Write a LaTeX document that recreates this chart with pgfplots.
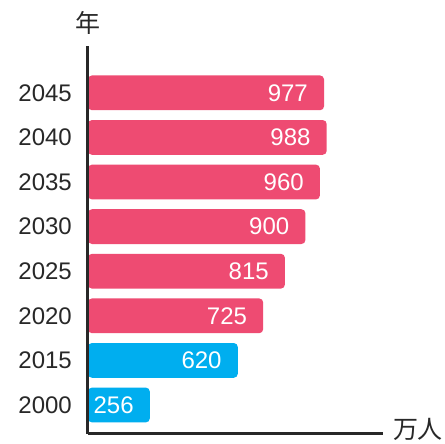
\documentclass[border=0pt]{standalone}
\usepackage{pgfplots}
\pgfplotsset{compat=1.18}
\usepackage{fontspec}
\setmainfont{Liberation Sans}
\newfontfamily\cjk{Noto Sans CJK JP}
\definecolor{pinkbar}{RGB}{238,75,114}
\definecolor{cyanbar}{RGB}{0,174,239}
\definecolor{axisgray}{RGB}{40,40,40}
\begin{document}
\begin{tikzpicture}
\useasboundingbox (-88pt,-10pt) rectangle (357pt,434pt);
\begin{axis}[
 scale only axis, width=295pt, height=388pt,
 xbar, bar width=0.78, bar shift=0pt,
 xmin=0, xmax=1221, ymin=-0.65, ymax=8.05,
 axis x line=bottom, axis y line=left,
 axis line style={-, line width=3pt, color=axisgray},
 axis on top,
 xtick=\empty,
 ytick={0,...,7}, yticklabels={2000,2015,2020,2025,2030,2035,2040,2045},
 major tick length=0pt,
 yticklabel style={inner sep=0pt, xshift=-16pt, font=\fontsize{24}{28}\selectfont, text=axisgray},
 nodes near coords,
 nodes near coords style={anchor=east, inner sep=0pt, xshift=-16pt, text=white, font=\fontsize{24}{28}\selectfont},
 /pgf/number format/assume math mode=true,
 clip=false,
]
\addplot[fill=cyanbar, draw=none, rounded corners=4pt] coordinates {(256,0) (620,1)};
\addplot[fill=pinkbar, draw=none, rounded corners=4pt] coordinates {(725,2) (815,3) (900,4) (960,5) (988,6) (977,7)};
\node[inner sep=0pt, text=axisgray, font=\fontsize{25}{28}\selectfont, yshift=23pt] at (rel axis cs:0,1) {\cjk 年};
\node[inner sep=0pt, text=axisgray, font=\fontsize{25}{28}\selectfont, xshift=35pt, yshift=5pt] at (rel axis cs:1,0) {\cjk 万人};
\end{axis}
\end{tikzpicture}
\end{document}
